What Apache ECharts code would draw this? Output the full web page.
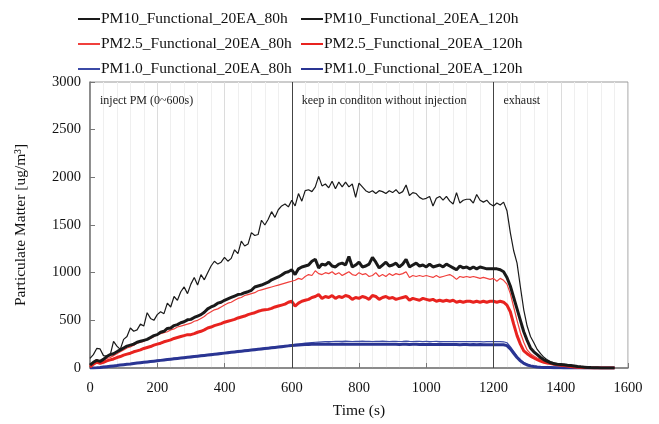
<!DOCTYPE html>
<html><head><meta charset="utf-8">
<script src="https://cdn.jsdelivr.net/npm/echarts@6/dist/echarts.min.js"></script>
<style>html,body{margin:0;padding:0;background:#fff}#c{width:659px;height:424px}</style>
</head><body><div id="c"></div>
<script>
// time axis sampling: every 10 s starting at 0 s
const T_START = 0, T_STEP = 10;
const xTicks = [0,200,400,600,800,1000,1200,1400,1600];
const yTicks = [0,500,1000,1500,2000,2500,3000];
const phaseBounds = [0,600,1200,1600];
const phaseLabels = ['inject PM (0~600s)','keep in conditon without injection','exhaust'];

const pm10_80h = [100,140,205,200,130,125,135,280,230,195,
300,330,420,385,400,460,440,580,520,500,
560,590,570,680,640,750,710,800,850,780,
880,950,870,980,925,1000,1070,1120,1090,1110,
1160,1120,1150,1240,1200,1330,1280,1300,1420,1390,
1400,1550,1500,1560,1640,1580,1660,1700,1720,1690,
1760,1700,1830,1750,1860,1870,1850,1900,2010,1910,
1930,1890,1960,1880,1950,1900,1950,1900,1930,1790,
1940,1900,1860,1840,1860,1830,1860,1850,1830,1860,
1840,1870,1830,1850,1920,1810,1840,1830,1790,1770,
1780,1800,1700,1780,1800,1760,1800,1750,1720,1840,
1730,1760,1770,1770,1730,1820,1760,1740,1760,1720,
1700,1730,1710,1740,1650,1420,1230,1100,850,610,
440,330,265,195,150,112,85,65,55,45,
36,30,27,24,20,15,12,10,8,5,
4,3,2,2,1,1,0];

const pm10_120h = [30,60,80,70,90,120,140,150,170,190,
210,230,240,250,270,280,290,300,320,340,
350,375,385,415,420,445,455,475,485,505,
510,530,545,560,585,620,640,655,680,690,
710,725,740,755,770,775,790,800,815,850,
860,870,885,900,925,940,955,975,1000,1010,
1030,980,1040,1060,1070,1080,1120,1140,1050,1090,
1080,1110,1070,1060,1090,1100,1080,1170,1060,1080,
1110,1060,1070,1090,1160,1110,1050,1080,1110,1070,
1080,1100,1060,1090,1140,1060,1080,1100,1070,1080,
1060,1090,1060,1070,1080,1060,1090,1070,1050,1030,
1070,1050,1060,1040,1060,1040,1060,1050,1040,1040,
1040,1040,1030,1010,950,860,740,620,500,380,
290,210,170,140,110,85,70,55,45,40,
37,34,30,27,22,16,12,9,6,4,
3,2,1,1,0,0,0];

const pm25_80h = [20,60,90,70,80,100,110,130,150,170,
190,210,220,240,260,270,280,300,310,330,
350,360,370,380,400,410,430,440,450,460,
470,490,500,520,540,570,590,610,620,640,
660,680,690,710,730,740,760,770,780,790,
810,820,830,840,850,860,870,880,890,900,
910,920,940,930,960,980,970,1020,990,980,
1000,990,1010,980,1000,970,990,1010,980,970,
1000,980,990,960,970,1000,960,980,960,990,
970,990,980,990,1010,950,970,960,970,960,
970,960,950,970,950,960,970,980,960,930,
960,950,960,950,960,950,940,950,940,930,
940,910,940,920,880,780,640,500,370,270,
190,150,125,105,90,75,65,55,48,42,
36,32,28,22,16,12,9,6,4,2,
1,1,0,0,0,0,0];

const pm25_120h = [10,40,60,50,60,75,85,95,110,120,
135,145,155,170,180,190,205,215,225,240,
250,260,275,285,295,310,320,330,340,350,
350,360,375,385,400,420,430,445,455,465,
480,490,500,510,525,535,545,560,570,580,
595,605,610,615,625,640,650,660,670,690,
700,650,680,700,710,720,740,750,770,730,
750,740,760,730,750,740,760,750,720,740,
730,750,740,720,760,750,720,740,750,730,
740,720,730,740,750,710,730,720,710,730,
720,710,720,700,710,700,710,700,710,690,
700,690,700,700,690,700,690,700,690,700,
700,690,700,690,660,590,460,340,250,180,
150,125,105,88,72,60,52,46,40,35,
30,25,20,15,11,8,5,3,2,1,
0,0,0,0,0,0,0];

const pm1_80h = [0,2,5,8,12,16,20,24,28,33,
37,41,45,50,54,58,62,66,71,75,
79,83,87,92,96,100,104,108,112,116,
121,125,129,133,137,141,145,149,153,157,
161,165,169,173,177,181,185,189,193,197,
201,205,209,213,217,221,225,229,233,237,
242,247,252,256,260,264,267,270,272,274,
276,277,278,279,280,279,281,280,278,280,
279,281,280,279,278,280,279,281,280,278,
279,280,278,279,281,279,278,280,279,278,
279,277,278,279,277,278,276,278,277,276,
277,276,278,277,276,277,276,275,277,276,
276,277,276,275,265,225,175,125,88,58,
40,29,21,16,13,11,10,9,9,8,
8,8,7,7,7,6,6,6,6,5,
5,5,5,4,4,4,3];

const pm1_120h = [0,1,3,6,10,14,18,22,26,31,
35,39,43,48,52,56,60,64,68,72,
76,80,84,88,92,96,100,104,108,112,
116,120,124,128,132,136,140,144,148,152,
156,160,164,168,172,176,180,184,188,192,
196,200,204,208,212,216,220,224,228,232,
236,239,242,244,246,247,248,249,250,249,
250,251,250,249,250,251,250,249,248,250,
249,250,248,249,250,248,249,250,248,249,
248,249,247,248,249,247,248,249,247,248,
247,248,246,247,248,246,247,246,247,246,
245,246,247,245,246,245,246,245,244,245,
245,244,245,244,235,200,155,110,75,48,
32,22,15,11,8,6,5,4,3,2,
2,1,1,1,0,0,0,0,0,0,
0,0,0,0,0,0,0];

const names = ['PM10_Functional_20EA_80h','PM10_Functional_20EA_120h',
  'PM2.5_Functional_20EA_80h','PM2.5_Functional_20EA_120h',
  'PM1.0_Functional_20EA_80h','PM1.0_Functional_20EA_120h'];

function pairs(arr){ return arr.map((v,i)=>[T_START + i*T_STEP, v]); }

const FONT = 'Liberation Serif';
const chart = echarts.init(document.getElementById('c'));

function line(name, data, color, width, z){
  return {name, type:'line', data:pairs(data), showSymbol:false, symbol:'none',
    lineStyle:{color, width}, itemStyle:{color}, z, animation:false};
}

const series = [
  line(names[4], pm1_80h, '#3b4aa6', 1.2, 2),
  line(names[5], pm1_120h, '#2a3593', 3, 3),
  line(names[3], pm25_120h, '#e8231f', 3, 4),
  line(names[2], pm25_80h, '#f0403c', 1.2, 5),
  line(names[1], pm10_120h, '#1a1a1a', 3, 6),
  line(names[0], pm10_80h, '#1a1a1a', 1.2, 7)
];
series[0].markLine = {silent:true, symbol:'none', animation:false,
  lineStyle:{color:'#444', width:1, type:'solid'}, label:{show:false},
  data:[{xAxis:phaseBounds[1]},{xAxis:phaseBounds[2]}]};
series[0].markArea = {silent:true, animation:false, itemStyle:{color:'rgba(0,0,0,0)'},
  label:{show:true, position:'insideTopLeft', distance:0, offset:[10,13],
    fontFamily:FONT, fontSize:12, color:'#222'},
  data: phaseLabels.map((l,i)=>[{xAxis:phaseBounds[i], name:l},{xAxis:phaseBounds[i+1]}])};

const legendText = {fontFamily:FONT, fontSize:15.5, color:'#111', lineHeight:16, padding:[0,0,0,-4]};
const legendBase = {orient:'vertical', top:11, padding:0, itemWidth:22, itemHeight:10, itemGap:9,
  textStyle:legendText, itemStyle:{opacity:0}};
const yFmt = v => String(v);
chart.setOption({
  backgroundColor:'#fff',
  animation:false,
  grid:{left:90, right:31, top:82, bottom:55, show:true, borderColor:'#999', borderWidth:1, backgroundColor:'transparent'},
  legend:[
    Object.assign({data:[names[0],names[2],names[4]], left:77}, legendBase),
    Object.assign({data:[names[1],names[3],names[5]], left:300}, legendBase)
  ],
  xAxis:{type:'value', min:xTicks[0], max:xTicks[xTicks.length-1], interval:200,
    name:'Time (s)', nameLocation:'middle', nameGap:35,
    nameTextStyle:{fontFamily:FONT, fontSize:15.5, color:'#111'},
    axisLine:{show:true, lineStyle:{color:'#777', width:1.5}},
    axisTick:{show:true, inside:true, length:5, lineStyle:{color:'#777'}},
    axisLabel:{fontFamily:FONT, fontSize:14.5, color:'#111', margin:13, formatter:yFmt},
    splitLine:{show:true, lineStyle:{color:'#dcdcdc', width:1}},
    minorTick:{show:false, splitNumber:5},
    minorSplitLine:{show:true, lineStyle:{color:'#efefef', width:1}}
  },
  yAxis:{type:'value', min:yTicks[0], max:yTicks[yTicks.length-1], interval:500,
    name:'Particulate Matter [ug/m³]', nameLocation:'middle', nameGap:61,
    nameTextStyle:{fontFamily:FONT, fontSize:15.5, color:'#111'},
    axisLine:{show:true, lineStyle:{color:'#777', width:1.5}},
    axisTick:{show:true, inside:true, length:5, lineStyle:{color:'#777'}},
    axisLabel:{fontFamily:FONT, fontSize:14.5, color:'#111', margin:9, formatter:yFmt},
    splitLine:{show:false}
  },
  series
});
</script></body></html>
